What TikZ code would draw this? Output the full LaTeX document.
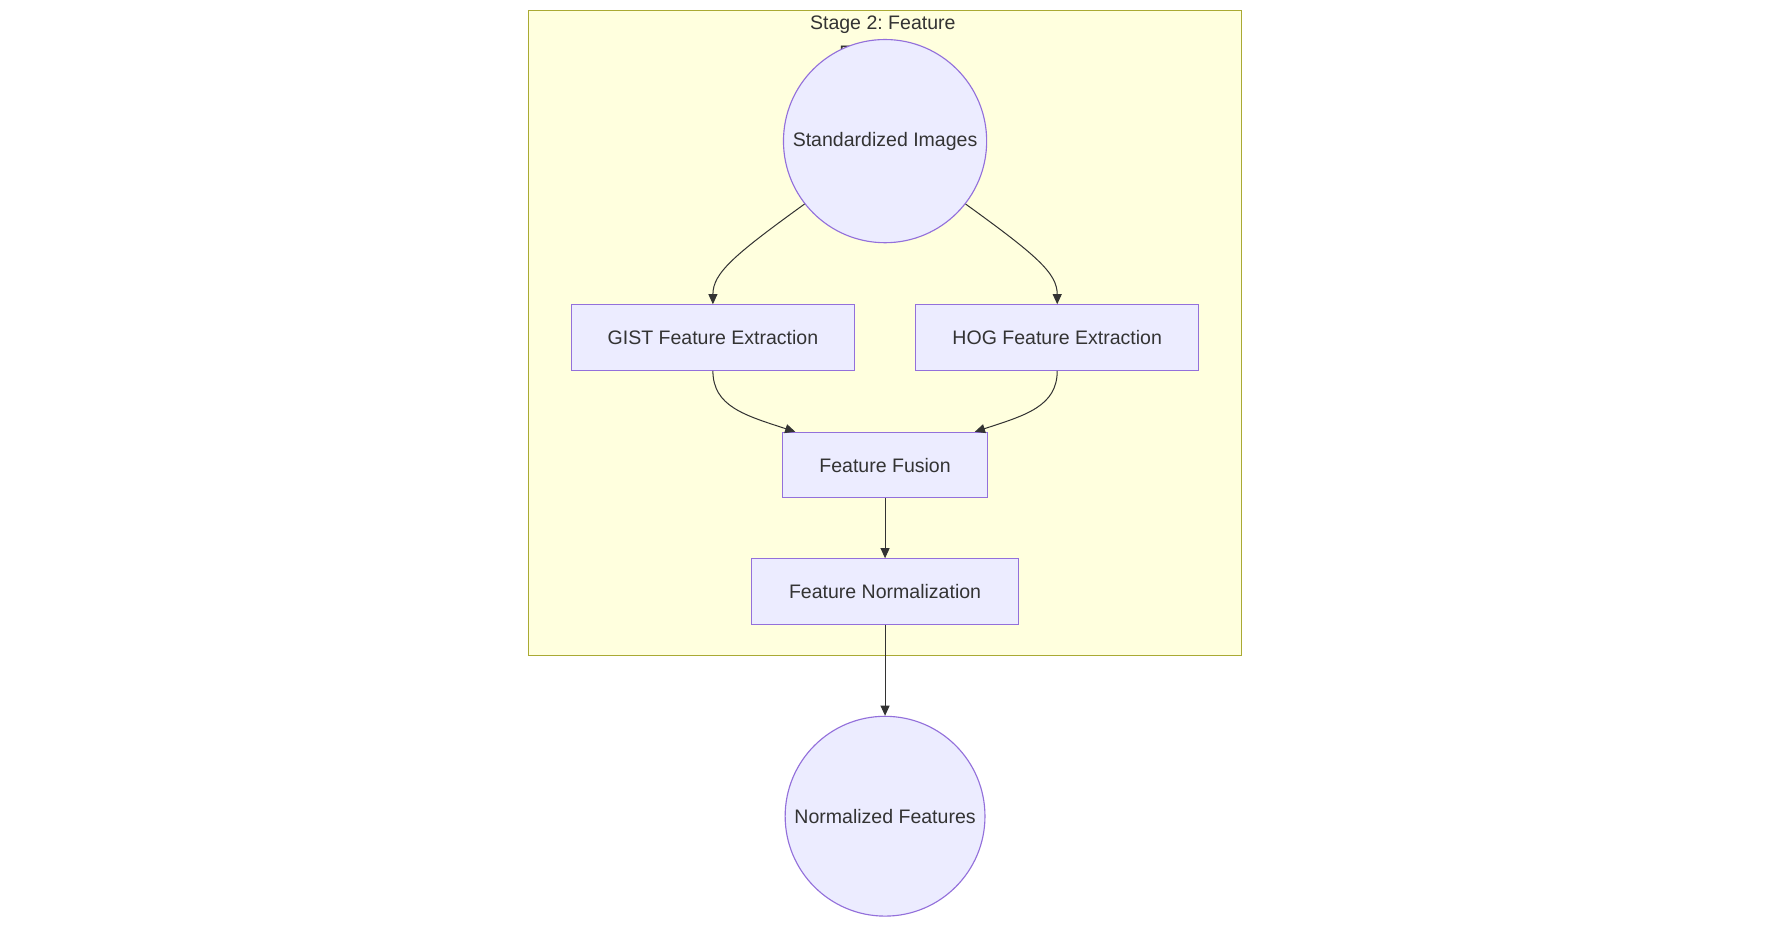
\documentclass[tikz,border=0pt]{standalone}
\usepackage{fontspec}
\setmainfont{Liberation Sans}
\frenchspacing
\usetikzlibrary{arrows.meta}
\definecolor{nodefill}{HTML}{ECECFF}
\definecolor{nodeline}{HTML}{9370DB}
\definecolor{edgeline}{HTML}{333333}
\definecolor{stagefill}{HTML}{FFFFDE}
\definecolor{stageline}{HTML}{AAAA33}
\begin{document}
\begin{tikzpicture}[x=1pt,y=-1pt,
    box/.style={draw=nodeline,fill=nodefill,line width=1pt,minimum height=58pt,
        inner sep=0pt,text=edgeline,font=\fontsize{17.3}{26}\selectfont},
    blob/.style={box,circle},
    edge/.style={draw=edgeline,line width=0.9pt,-{Triangle[length=9pt,width=8pt]}}]
    \useasboundingbox (0,0) rectangle (1567,820);
    \fill[white] (0,0) rectangle (1567,820);
    \draw[stageline,fill=stagefill,line width=1pt] (468,9) rectangle (1100,581);
    \node[align=center,text=edgeline,font=\fontsize{17.3}{26.5}\selectfont] (title) at (782,33.5) {Stage 2: Feature\\Extraction};
    \node[blob,minimum size=180pt] (std) at (784,125) {Standardized Images};
    \node[box,minimum width=251pt] (gist) at (631.5,299) {GIST Feature Extraction};
    \node[box,minimum width=251pt] (hog) at (936.5,299) {HOG Feature Extraction};
    \node[box,minimum width=182pt] (fuse) at (784,412) {Feature Fusion};
    \node[box,minimum width=236pt] (norm) at (784,524) {Feature Normalization};
    \node[blob,minimum size=177pt] (feat) at (784,723) {Normalized Features};
    % curved edges into and out of the two extractors
    \draw[edge] (std.218) .. controls (650,226) and (631.5,242) .. (gist.north);
    \draw[edge] (std.-38) .. controls (918,226) and (936.5,242) .. (hog.north);
    \draw[edge] (gist.south) .. controls (631.5,360) and (660,368) .. ([xshift=12pt]fuse.north west);
    \draw[edge] (hog.south) .. controls (936.5,360) and (908,368) .. ([xshift=-12pt]fuse.north east);
    \draw[edge] (fuse) -- (norm);
    \draw[edge] (norm) -- (feat);
\end{tikzpicture}
\end{document}
